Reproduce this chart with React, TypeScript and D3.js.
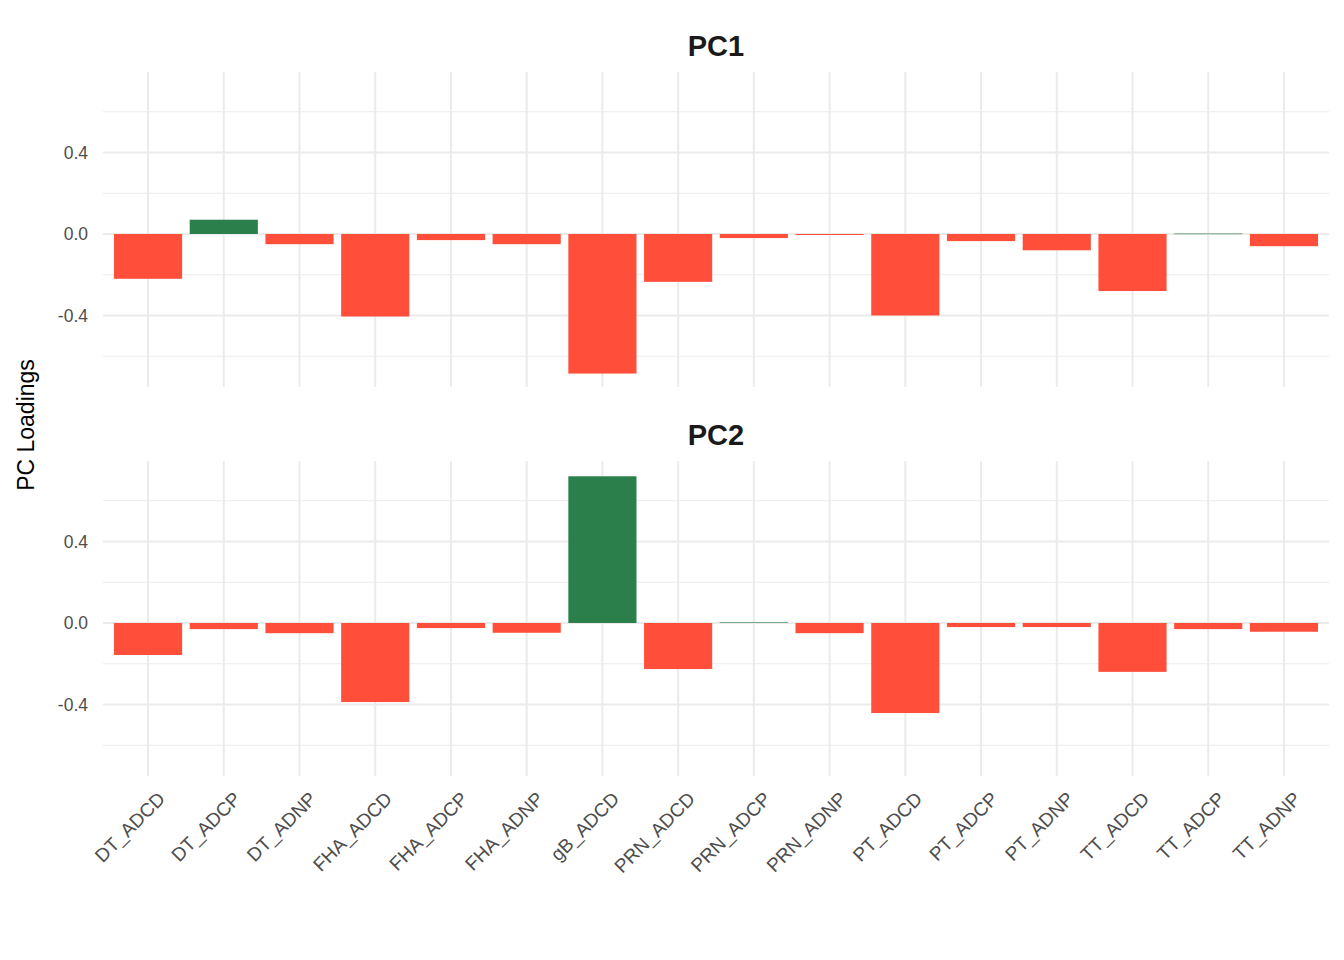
import { useEffect, useRef } from 'react';
import * as d3 from 'd3';

const categories = [
  'DT_ADCD', 'DT_ADCP', 'DT_ADNP', 'FHA_ADCD', 'FHA_ADCP', 'FHA_ADNP', 'gB_ADCD', 'PRN_ADCD',
  'PRN_ADCP', 'PRN_ADNP', 'PT_ADCD', 'PT_ADCP', 'PT_ADNP', 'TT_ADCD', 'TT_ADCP', 'TT_ADNP',
];
const pc1 = [-0.22, 0.07, -0.05, -0.405, -0.03, -0.05, -0.685, -0.235, -0.02, -0.005, -0.4, -0.035, -0.08, -0.28, 0.002, -0.06];
const pc2 = [-0.157, -0.03, -0.05, -0.388, -0.025, -0.048, 0.72, -0.226, 0.003, -0.05, -0.442, -0.02, -0.02, -0.24, -0.03, -0.043];
const panels = [
  { title: 'PC1', values: pc1 },
  { title: 'PC2', values: pc2 },
];
const majorTicks = [-0.4, 0, 0.4];
const minorTicks = [-0.6, -0.2, 0.2, 0.6];

export default function App() {
  const svgRef = useRef<SVGSVGElement>(null);

  useEffect(() => {
    if (!svgRef.current) return;
    const svg = d3.select(svgRef.current);
    svg.selectAll('*').remove();

    const left = 103;
    const right = 1329;
    const panelTops = [72, 461];
    const panelH = 315;
    const font = 'Liberation Sans, Arial, sans-serif';

    const x = d3.scaleBand().domain(categories).range([106.4, 1325.6]).padding(0.1);

    panels.forEach((p, i) => {
      const top = panelTops[i];
      const y = d3.scaleLinear().domain([-0.751, 0.795]).range([top + panelH, top]);
      const g = svg.append('g');

      g.selectAll('.minor')
        .data(minorTicks)
        .enter()
        .append('line')
        .attr('x1', left).attr('x2', right)
        .attr('y1', (d) => y(d)).attr('y2', (d) => y(d))
        .attr('stroke', '#ebebeb').attr('stroke-width', 1);

      g.selectAll('.major')
        .data(majorTicks)
        .enter()
        .append('line')
        .attr('x1', left).attr('x2', right)
        .attr('y1', (d) => y(d)).attr('y2', (d) => y(d))
        .attr('stroke', '#ebebeb').attr('stroke-width', 2);

      g.selectAll('.vgrid')
        .data(categories)
        .enter()
        .append('line')
        .attr('x1', (d) => x(d)! + x.bandwidth() / 2)
        .attr('x2', (d) => x(d)! + x.bandwidth() / 2)
        .attr('y1', top).attr('y2', top + panelH)
        .attr('stroke', '#ebebeb').attr('stroke-width', 2);

      g.selectAll('.bar')
        .data(p.values)
        .enter()
        .append('rect')
        .attr('x', (_d, j) => x(categories[j])!)
        .attr('width', x.bandwidth())
        .attr('y', (d) => y(Math.max(0, d)))
        .attr('height', (d) => Math.max(0.6, Math.abs(y(d) - y(0))))
        .attr('fill', (d) => (d >= 0 ? '#2a7f4a' : '#ff4f3b'));

      g.selectAll('.ytick')
        .data(majorTicks)
        .enter()
        .append('text')
        .attr('x', 88)
        .attr('y', (d) => y(d))
        .attr('dy', '0.36em')
        .attr('text-anchor', 'end')
        .style('font-family', font)
        .style('font-size', '17.5px')
        .style('fill', '#4d4d4d')
        .text((d) => d.toFixed(1));

      g.append('text')
        .attr('x', (left + right) / 2)
        .attr('y', top - 16)
        .attr('text-anchor', 'middle')
        .style('font-family', font)
        .style('font-size', '29px')
        .style('font-weight', 'bold')
        .style('fill', '#1a1a1a')
        .text(p.title);
    });

    // x labels under bottom panel
    svg.append('g')
      .selectAll('text')
      .data(categories)
      .enter()
      .append('text')
      .attr('transform', (d) => `translate(${x(d)! + x.bandwidth() / 2 + 8},${790}) rotate(-45)`)
      .attr('text-anchor', 'end')
      .attr('dy', '0.75em')
      .style('font-family', font)
      .style('font-size', '19px')
      .style('fill', '#4d4d4d')
      .text((d) => d);

    svg.append('text')
      .attr('transform', 'translate(34,425) rotate(-90)')
      .attr('text-anchor', 'middle')
      .style('font-family', font)
      .style('font-size', '23px')
      .style('fill', '#000')
      .text('PC Loadings');
  }, []);

  return (
    <svg
      ref={svgRef}
      width={1344}
      height={960}
      style={{ position: 'absolute', left: 0, top: 0, background: '#fff' }}
    />
  );
}
